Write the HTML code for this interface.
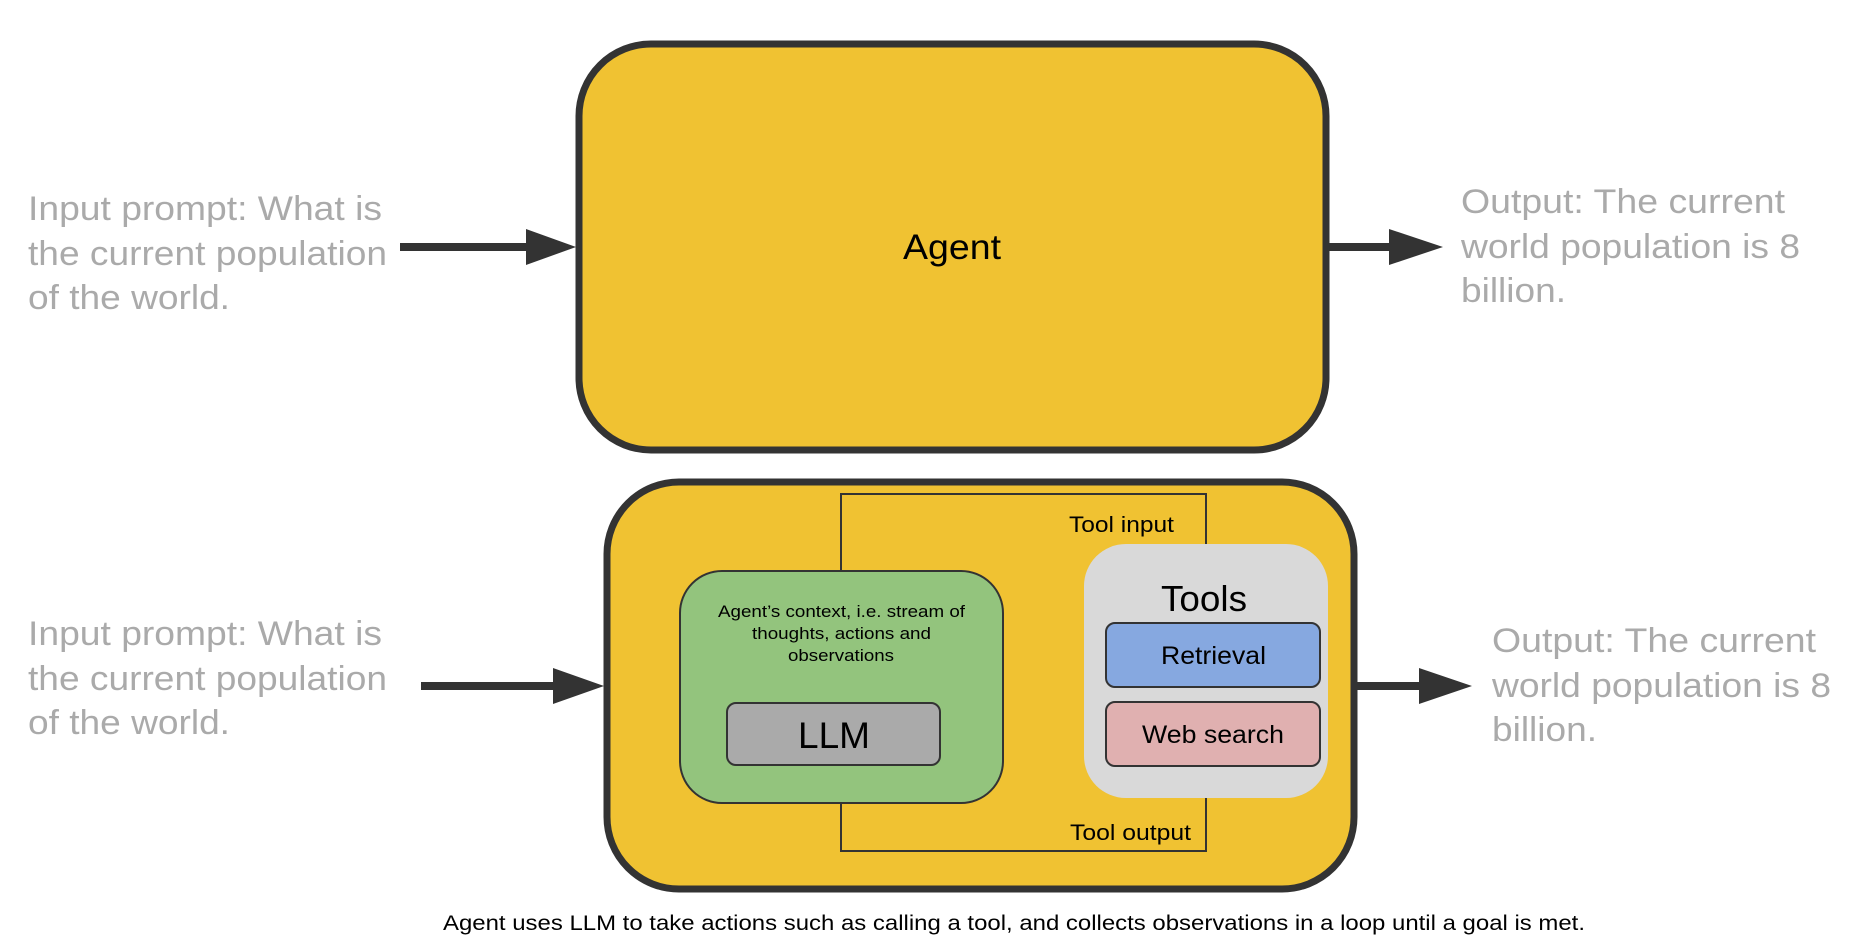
<!DOCTYPE html>
<html><head><meta charset="utf-8"><style>
html,body{margin:0;padding:0;background:#fff;}
svg{display:block;font-family:"Liberation Sans",Arial,sans-serif;}
</style></head><body>
<svg width="1854" height="947" viewBox="0 0 1854 947" xmlns="http://www.w3.org/2000/svg">
<rect x="579" y="44" width="747" height="406" rx="72" fill="#f0c232" stroke="#333" stroke-width="7"/>
<text x="952" y="259" font-size="35" text-anchor="middle" fill="#000" textLength="98" lengthAdjust="spacingAndGlyphs">Agent</text>
<g fill="#aaa" font-size="34" lengthAdjust="spacingAndGlyphs">
<text x="28" y="220" textLength="354" lengthAdjust="spacingAndGlyphs">Input prompt: What is</text>
<text x="28" y="265" textLength="359" lengthAdjust="spacingAndGlyphs">the current population</text>
<text x="28" y="309" textLength="202" lengthAdjust="spacingAndGlyphs">of the world.</text>
<text x="1461" y="213" textLength="324" lengthAdjust="spacingAndGlyphs">Output: The current</text>
<text x="1461" y="258" textLength="339" lengthAdjust="spacingAndGlyphs">world population is 8</text>
<text x="1461" y="302" textLength="105" lengthAdjust="spacingAndGlyphs">billion.</text>
<text x="28" y="645" textLength="354" lengthAdjust="spacingAndGlyphs">Input prompt: What is</text>
<text x="28" y="690" textLength="359" lengthAdjust="spacingAndGlyphs">the current population</text>
<text x="28" y="734" textLength="202" lengthAdjust="spacingAndGlyphs">of the world.</text>
<text x="1492" y="652" textLength="324" lengthAdjust="spacingAndGlyphs">Output: The current</text>
<text x="1492" y="697" textLength="339" lengthAdjust="spacingAndGlyphs">world population is 8</text>
<text x="1492" y="741" textLength="105" lengthAdjust="spacingAndGlyphs">billion.</text>
</g>
<g fill="#333">
<rect x="400" y="243" width="128" height="8"/><polygon points="526,229 576,247 526,265"/>
<rect x="1329" y="243" width="62" height="8"/><polygon points="1389,229 1443,247 1389,265"/>
<rect x="421" y="682" width="134" height="8"/><polygon points="553,668 604,686 553,704"/>
<rect x="1357" y="682" width="64" height="8"/><polygon points="1419,668 1472,686 1419,704"/>
</g>
<rect x="607" y="482" width="747" height="407" rx="72" fill="#f0c232" stroke="#333" stroke-width="7"/>
<polyline points="841,571 841,494 1206,494 1206,544" fill="none" stroke="#333" stroke-width="2"/>
<polyline points="841,803 841,851 1206,851 1206,798" fill="none" stroke="#333" stroke-width="2"/>
<text x="1069" y="532" font-size="22" fill="#000" textLength="105" lengthAdjust="spacingAndGlyphs">Tool input</text>
<text x="1070" y="840" font-size="22" fill="#000" textLength="121" lengthAdjust="spacingAndGlyphs">Tool output</text>
<rect x="680" y="571" width="323" height="232" rx="42" fill="#93c47d" stroke="#333" stroke-width="2"/>
<g font-size="17" fill="#000">
<text x="718" y="617" textLength="247" lengthAdjust="spacingAndGlyphs">Agent’s context, i.e. stream of</text>
<text x="752" y="639" textLength="179" lengthAdjust="spacingAndGlyphs">thoughts, actions and</text>
<text x="788" y="661" textLength="106" lengthAdjust="spacingAndGlyphs">observations</text>
</g>
<rect x="727" y="703" width="213" height="62" rx="9" fill="#aaaaaa" stroke="#333" stroke-width="2"/>
<text x="798" y="748" font-size="37" fill="#000" textLength="72" lengthAdjust="spacingAndGlyphs">LLM</text>
<rect x="1084" y="544" width="244" height="254" rx="42" fill="#d9d9d9"/>
<text x="1161" y="611" font-size="36" fill="#000" textLength="86" lengthAdjust="spacingAndGlyphs">Tools</text>
<rect x="1106" y="623" width="214" height="64" rx="9" fill="#86a8e0" stroke="#333" stroke-width="2"/>
<text x="1161" y="664" font-size="25" fill="#000" textLength="105" lengthAdjust="spacingAndGlyphs">Retrieval</text>
<rect x="1106" y="702" width="214" height="64" rx="9" fill="#e0b0b0" stroke="#333" stroke-width="2"/>
<text x="1142" y="743" font-size="25" fill="#000" textLength="142" lengthAdjust="spacingAndGlyphs">Web search</text>
<text x="443" y="930" font-size="21" fill="#000" textLength="1142" lengthAdjust="spacingAndGlyphs">Agent uses LLM to take actions such as calling a tool, and collects observations in a loop until a goal is met.</text>
</svg>
</body></html>
